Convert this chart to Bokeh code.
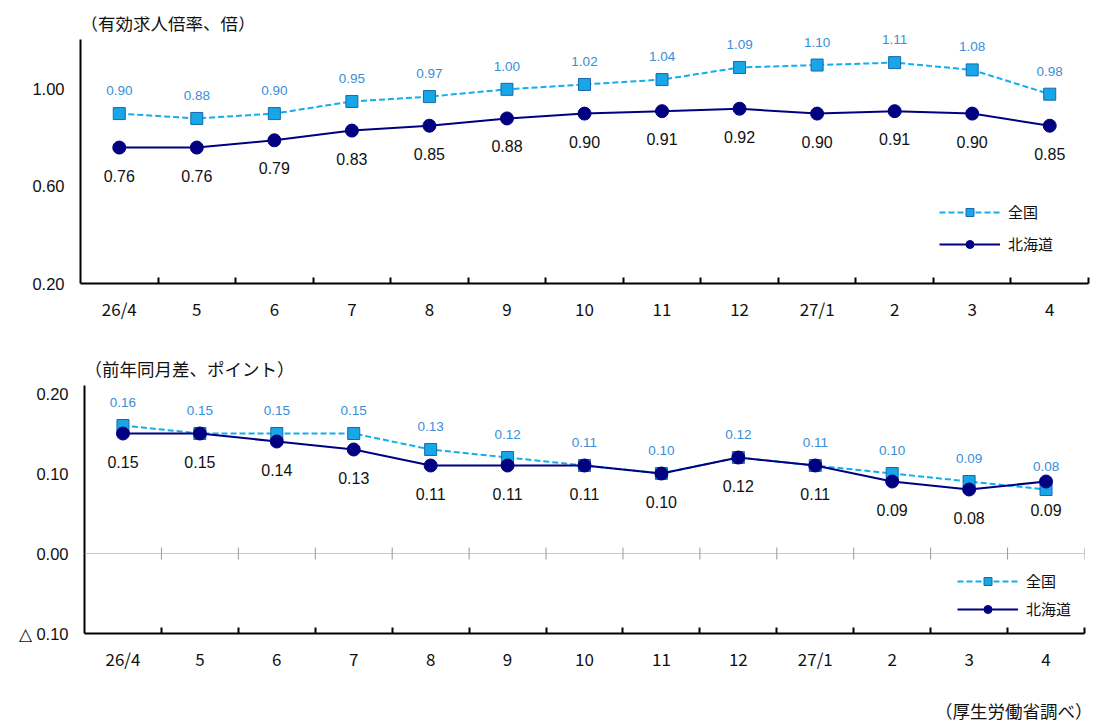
from bokeh.plotting import figure
from bokeh.models import (FixedTicker, CustomJSTickFormatter, Title, Legend, LegendItem,
                          Span, ColumnDataSource, Range1d, LabelSet, Label)
from bokeh.core.properties import value
from bokeh.embed import file_html
from bokeh.resources import INLINE

categories = ["26/4", "5", "6", "7", "8", "9", "10", "11", "12", "27/1", "2", "3", "4"]
ratio_national = [0.90, 0.88, 0.90, 0.95, 0.97, 1.00, 1.02, 1.04, 1.09, 1.10, 1.11, 1.08, 0.98]
ratio_hokkaido = [0.76, 0.76, 0.79, 0.83, 0.85, 0.88, 0.90, 0.91, 0.92, 0.90, 0.91, 0.90, 0.85]
diff_national = [0.16, 0.15, 0.15, 0.15, 0.13, 0.12, 0.11, 0.10, 0.12, 0.11, 0.10, 0.09, 0.08]
diff_hokkaido = [0.15, 0.15, 0.14, 0.13, 0.11, 0.11, 0.11, 0.10, 0.12, 0.11, 0.09, 0.08, 0.09]
top_ticks = [0.2, 0.6, 1.0]
bottom_ticks = [-0.1, 0.0, 0.1, 0.2]

NAT_LINE = "#12AEEC"
NAT_FILL = "#18A6E6"
NAT_EDGE = "#1668B0"
NAT_TEXT = "#3A8DD8"
HOK = "#000080"
CJK = "Noto Sans CJK JP"
LAT = "Liberation Sans"

n = len(categories)
xs = [i + 0.5 for i in range(n)]
bounds = [i + 1 for i in range(n)]


def make_fig(frame_w, frame_h, left, right, top, bottom, yr, ybounds, yticks, yfmt_code):
    p = figure(frame_width=frame_w, frame_height=frame_h, output_backend="svg",
               toolbar_location=None, x_range=Range1d(0, n), y_range=Range1d(*yr),
               min_border_left=left, min_border_right=right,
               min_border_top=top, min_border_bottom=bottom, outline_line_color=None)
    p.xgrid.visible = False
    p.ygrid.visible = False
    p.xaxis.ticker = FixedTicker(ticks=xs, minor_ticks=bounds)
    p.xaxis.formatter = CustomJSTickFormatter(args=dict(labels=categories),
                                              code="return labels[Math.floor(tick)];")
    p.xaxis.major_tick_line_color = None
    p.xaxis.minor_tick_line_color = "black"
    p.xaxis.minor_tick_line_width = 2
    p.xaxis.minor_tick_in = 6
    p.xaxis.minor_tick_out = 0
    p.xaxis.axis_line_width = 2
    p.xaxis.axis_line_color = "black"
    p.xaxis.major_label_text_font = CJK
    p.xaxis.major_label_text_font_size = "17px"
    p.xaxis.major_label_text_color = "#111111"
    p.xaxis.major_label_standoff = 6
    p.yaxis.ticker = FixedTicker(ticks=yticks)
    p.yaxis.formatter = CustomJSTickFormatter(code=yfmt_code)
    p.yaxis.bounds = ybounds
    p.yaxis.major_tick_line_color = None
    p.yaxis.minor_tick_line_color = None
    p.yaxis.axis_line_width = 2
    p.yaxis.axis_line_color = "black"
    p.yaxis.major_label_text_font = LAT
    p.yaxis.major_label_text_font_size = "16.5px"
    p.yaxis.major_label_text_color = "#111111"
    p.yaxis.major_label_standoff = 10
    return p


def add_series(p, nat, hok, legend_loc, spacing):
    src_n = ColumnDataSource(dict(x=xs, y=nat, t=["%.2f" % v for v in nat]))
    src_h = ColumnDataSource(dict(x=xs, y=hok, t=["%.2f" % v for v in hok]))
    l1 = p.line("x", "y", source=src_n, line_color=NAT_LINE, line_width=2, line_dash="6 3")
    s1 = p.scatter("x", "y", source=src_n, marker="square", size=12,
                   fill_color=NAT_FILL, line_color=NAT_EDGE, line_width=1)
    l2 = p.line("x", "y", source=src_h, line_color=HOK, line_width=2)
    s2 = p.scatter("x", "y", source=src_h, marker="circle", size=13,
                   fill_color=HOK, line_color=HOK)
    p.add_layout(LabelSet(x="x", y="y", text="t", source=src_n, text_font=value(LAT),
                          text_font_size=value("13.5px"), text_color=NAT_TEXT,
                          text_align="center", text_baseline="middle", y_offset=23))
    p.add_layout(LabelSet(x="x", y="y", text="t", source=src_h, text_font=value(LAT),
                          text_font_size=value("16px"), text_color="#111111",
                          text_align="center", text_baseline="middle", y_offset=-28))
    legend = Legend(items=[LegendItem(label="全国", renderers=[l1, s1]),
                           LegendItem(label="北海道", renderers=[l2, s2])],
                    location=legend_loc, padding=0, margin=0, spacing=spacing,
                    glyph_width=61, glyph_height=20, label_height=20, label_standoff=8,
                    label_text_font=CJK, label_text_font_size="15px",
                    label_text_color="#111111", border_line_color=None,
                    background_fill_alpha=0)
    p.add_layout(legend)


yfmt_top = "return tick.toFixed(2);"
yfmt_bot = "return tick < -0.05 ? '\u25b3 ' + Math.abs(tick).toFixed(2) : Math.abs(tick).toFixed(2);"

# top chart: frame extended upward so labels above the axis top are not clipped
p1 = make_fig(1008, 267, 80, 8, 16, 57, (0.2, 1.30), (0.2, 1.205), top_ticks, yfmt_top)
p1.add_layout(Label(x=0, y=1.275, text="（有効求人倍率、倍）", text_font=CJK,
                    text_font_size="17.5px", text_color="#111111",
                    text_align="left", text_baseline="middle"))
add_series(p1, ratio_national, ratio_hokkaido, (859, 29), 11)

p2 = make_fig(1000, 248, 84, 13, 45, 80, (-0.1, 0.21), (-0.1, 0.21), bottom_ticks, yfmt_bot)
p2.title = Title(text="（前年同月差、ポイント）", align="left", offset=0, text_font=CJK,
                 text_font_size="17.5px", text_font_style="normal", text_color="#111111",
                 standoff=9)
p2.add_layout(Span(location=0, dimension="width", line_color="#999999",
                   line_width=1, line_dash="1 1"))
p2.scatter(bounds, [0] * n, marker="dash", angle=1.5708, size=12,
           line_color="#999999", line_width=1)
add_series(p2, diff_national, diff_hokkaido, (873, 14), 7)
p2.add_layout(Title(text="（厚生労働省調べ）", align="right", offset=-8, text_font=CJK,
                    text_font_size="17.5px", text_font_style="normal",
                    text_color="#111111", standoff=44), "below")

open("out.html", "w").write(file_html([p1, p2], INLINE))
